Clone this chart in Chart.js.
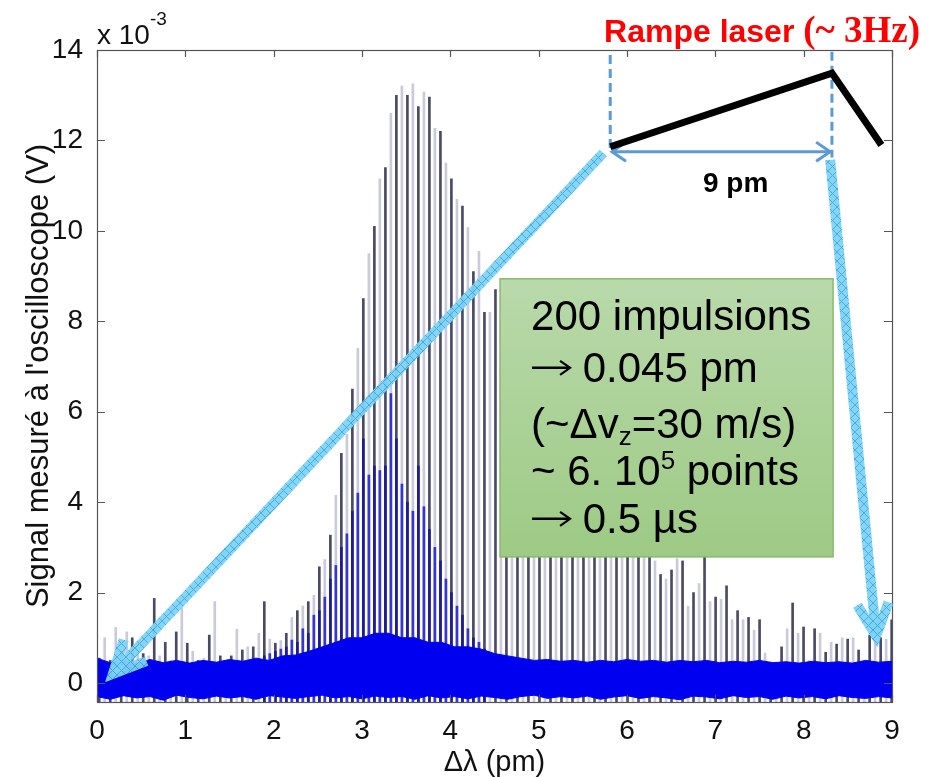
<!DOCTYPE html>
<html>
<head>
<meta charset="utf-8">
<script src="https://cdn.jsdelivr.net/npm/chart.js@4.4.1/dist/chart.umd.min.js"></script>
<style>
  html, body { margin: 0; padding: 0; background: #fff; }
  #wrap { width: 944px; height: 777px; position: relative; }
</style>
</head>
<body>
<div id="wrap"><canvas id="chart"></canvas></div>
<script>
// --- data (x in pm, y in 10^-3 V) ---
const spikeX = [
  0.025, 0.087, 0.150, 0.212, 0.274, 0.337, 0.399, 0.461, 0.523, 0.586,
  0.648, 0.710, 0.773, 0.835, 0.897, 0.960, 1.022, 1.084, 1.146, 1.209,
  1.271, 1.333, 1.396, 1.458, 1.520, 1.583, 1.645, 1.707, 1.769, 1.832,
  1.894, 1.956, 2.019, 2.081, 2.143, 2.206, 2.268, 2.330, 2.392, 2.455,
  2.517, 2.579, 2.642, 2.704, 2.766, 2.829, 2.891, 2.953, 3.015, 3.078,
  3.140, 3.202, 3.265, 3.327, 3.389, 3.452, 3.514, 3.576, 3.638, 3.701,
  3.763, 3.825, 3.888, 3.950, 4.012, 4.075, 4.137, 4.199, 4.261, 4.324,
  4.386, 4.448, 4.511, 4.573, 4.635, 4.698, 4.760, 4.822, 4.884, 4.947,
  5.009, 5.071, 5.134, 5.196, 5.258, 5.321, 5.383, 5.445, 5.507, 5.570,
  5.632, 5.694, 5.757, 5.819, 5.881, 5.944, 6.006, 6.068, 6.130, 6.193,
  6.255, 6.317, 6.380, 6.442, 6.504, 6.567, 6.629, 6.691, 6.753, 6.816,
  6.878, 6.940, 7.003, 7.065, 7.127, 7.190, 7.252, 7.314, 7.376, 7.439,
  7.501, 7.563, 7.626, 7.688, 7.750, 7.813, 7.875, 7.937, 7.999, 8.062,
  8.124, 8.186, 8.249, 8.311, 8.373, 8.436, 8.498, 8.560, 8.622, 8.685,
  8.747, 8.809, 8.872, 8.934, 8.996
];
const spikeY = [
  0.55, 1.0, 0.5, 1.23, 0.7, 1.13, 1.0, 0.85, 0.65, 0.6,
  1.87, 0.6, 0.9, 0.5, 1.13, 1.66, 0.88, 0.7, 0.5, 0.55,
  1.06, 1.8, 0.6, 0.5, 0.6, 1.19, 0.73, 0.8, 0.8, 1.1,
  1.8, 0.97, 0.88, 0.94, 1.1, 1.45, 1.6, 1.7, 1.8, 1.94,
  2.57, 2.73, 3.27, 4.15, 5.08, 5.5, 6.5, 7.4, 8.5, 9.5,
  10.1, 11.15, 11.4, 12.6, 13.0, 13.2, 13.0, 13.25, 12.75, 13.07,
  12.96, 12.27, 12.2, 11.5, 11.15, 10.7, 10.55, 10.07, 9.1, 9.55,
  8.2, 8.2, 8.7, 8.0, 7.6, 7.9, 7.2, 6.9, 7.0, 6.5,
  6.2, 6.4, 5.9, 5.6, 5.8, 5.3, 5.0, 5.2, 4.8, 4.5,
  4.6, 4.2, 4.0, 4.1, 3.8, 3.6, 3.7, 3.4, 3.2, 3.3,
  3.0, 2.7, 2.4, 2.3, 2.5, 2.75, 2.7, 1.7, 2.0, 2.2,
  2.9, 1.8, 1.9, 1.85, 2.15, 1.4, 1.6, 1.4, 1.45, 1.17,
  1.4, 0.66, 0.46, 0.4, 0.8, 1.2, 1.77, 1.1, 1.24, 0.5,
  1.2, 1.1, 0.68, 0.9, 0.86, 1.0, 0.97, 1.0, 0.73, 0.5,
  1.06, 1.0, 1.0, 0.97, 1.4
];
// blue part of the pulses in the 2-4.5 pm bump
const blueSpikeX = spikeX.slice(30, 71);
const blueSpikeY = [
  0.6, 0.65, 0.7, 0.75, 0.8, 0.95, 0.9, 1.2, 1.1, 1.5,
  1.6, 1.9, 2.3, 2.6, 3.0, 3.3, 3.8, 4.2, 5.4, 4.6,
  4.8, 4.7, 4.8, 6.4, 5.4, 4.4, 4.0, 3.8, 4.8, 3.9,
  3.4, 3.0, 2.7, 2.3, 2.0, 1.7, 1.5, 1.2, 1.0, 0.9, 0.75
];
// noise band (upper / lower edge)
const bandX = [
  0, 0.15, 0.3, 0.45, 0.6, 0.75, 0.9, 1.05, 1.2, 1.35,
  1.5, 1.65, 1.8, 1.95, 2.1, 2.25, 2.4, 2.55, 2.7, 2.85,
  3.0, 3.15, 3.3, 3.45, 3.6, 3.75, 3.9, 4.05, 4.2, 4.35,
  4.5, 4.65, 4.8, 4.95, 5.1, 5.25, 5.4, 5.55, 5.7, 5.85,
  6.0, 6.15, 6.3, 6.45, 6.6, 6.75, 6.9, 7.05, 7.2, 7.35,
  7.5, 7.65, 7.8, 7.95, 8.1, 8.25, 8.4, 8.55, 8.7, 8.85, 9.0
];
const bandTop = [
  0.55, 0.45, 0.5, 0.42, 0.52, 0.45, 0.5, 0.44, 0.5, 0.46,
  0.52, 0.48, 0.55, 0.5, 0.6, 0.62, 0.7, 0.8, 0.9, 1.0,
  1.0, 1.1, 1.1, 1.0, 1.0, 0.9, 0.9, 0.8, 0.8, 0.75,
  0.65, 0.6, 0.55, 0.5, 0.52, 0.48, 0.5, 0.46, 0.5, 0.47,
  0.52, 0.48, 0.5, 0.46, 0.5, 0.47, 0.5, 0.45, 0.48, 0.46,
  0.5, 0.45, 0.47, 0.44, 0.48, 0.45, 0.47, 0.44, 0.5, 0.46, 0.48
];
const bandBottom = [
  -0.3, -0.36, -0.28, -0.33, -0.3, -0.38, -0.27, -0.32, -0.35, -0.29,
  -0.33, -0.3, -0.36, -0.28, -0.31, -0.34, -0.3, -0.27, -0.33, -0.3,
  -0.35, -0.29, -0.32, -0.3, -0.36, -0.28, -0.33, -0.3, -0.35, -0.29,
  -0.32, -0.36, -0.3, -0.27, -0.34, -0.3, -0.33, -0.29, -0.36, -0.31,
  -0.28, -0.34, -0.3, -0.33, -0.37, -0.29, -0.31, -0.35, -0.28, -0.32,
  -0.3, -0.36, -0.29, -0.33, -0.3, -0.35, -0.28, -0.32, -0.34, -0.3, -0.33
];
const xTicks = [0, 1, 2, 3, 4, 5, 6, 7, 8, 9];
const yTicks = [0, 2, 4, 6, 8, 10, 12, 14];
const yMin = -0.42;

const DARK = '#4a4a66';
const LIGHT = '#cacadb';
const BLUE = '#0000f0';
const SANS = '"Liberation Sans", Arial, sans-serif';

// --- hatch pattern for the big cyan arrows ---
function makeHatch(ctx) {
    const c = document.createElement('canvas');
    c.width = 9; c.height = 9;
    const g = c.getContext('2d');
    g.fillStyle = '#80d2f6';
    g.fillRect(0, 0, 9, 9);
    g.strokeStyle = '#38ace5';
    g.lineWidth = 1;
    g.beginPath();
    g.moveTo(0, 0); g.lineTo(9, 9);
    g.moveTo(9, 0); g.lineTo(0, 9);
    g.stroke();
    return ctx.createPattern(c, 'repeat');
}

function fatArrow(ctx, x0, y0, x1, y1, pat) {
    ctx.save();
    ctx.globalAlpha = 0.95;
    ctx.strokeStyle = pat;
    ctx.lineWidth = 10;
    ctx.lineCap = 'butt';
    ctx.lineJoin = 'miter';
    ctx.beginPath();
    ctx.moveTo(x0, y0);
    ctx.lineTo(x1, y1);
    ctx.stroke();
    const a = Math.atan2(y0 - y1, x0 - x1);
    const L = 36, s = 0.45;
    ctx.beginPath();
    ctx.moveTo(x1 + L * Math.cos(a + s), y1 + L * Math.sin(a + s));
    ctx.lineTo(x1, y1);
    ctx.lineTo(x1 + L * Math.cos(a - s), y1 + L * Math.sin(a - s));
    ctx.stroke();
    ctx.restore();
}

function chevron(ctx, x, y, ang) {
    const L = 17, s = 0.6;
    ctx.beginPath();
    ctx.moveTo(x + L * Math.cos(ang + s), y + L * Math.sin(ang + s));
    ctx.lineTo(x, y);
    ctx.lineTo(x + L * Math.cos(ang - s), y + L * Math.sin(ang - s));
    ctx.stroke();
}

// thin "→" like the one of the slide font, drawn as a path; returns its width
function textArrow(ctx, x, baseline) {
    const y = baseline - 14, w = 40;
    ctx.save();
    ctx.strokeStyle = '#000';
    ctx.lineWidth = 2.6;
    ctx.beginPath();
    ctx.moveTo(x + 1, y); ctx.lineTo(x + w - 2, y);
    ctx.stroke();
    ctx.lineWidth = 2.2;
    ctx.beginPath();
    ctx.moveTo(x + w - 11, y - 7);
    ctx.lineTo(x + w - 1, y);
    ctx.lineTo(x + w - 11, y + 7);
    ctx.stroke();
    ctx.restore();
    return w;
}

// text line made of pieces: [text, font, dy]
function richLine(ctx, x, y, parts) {
    parts.forEach(([t, f, dy]) => {
        if (t === '\u2192') {
            x += textArrow(ctx, x, y);
            return;
        }
        ctx.font = f;
        ctx.fillText(t, x, y + (dy || 0));
        x += ctx.measureText(t).width;
    });
}

// --- axes box with inward ticks (matlab style) + annotations ---
const boxPlugin = {
    id: 'boxPlugin',
    afterDatasetsDraw(chart) {
        const { ctx, chartArea: { left, right, top, bottom } } = chart;
        const sx = chart.scales.x, sy = chart.scales.y;
        ctx.save();
        ctx.strokeStyle = '#555';
        ctx.lineWidth = 1.2;
        ctx.strokeRect(left + 0.5, top + 0.5, right - left, bottom - top);
        ctx.beginPath();
        yTicks.forEach(v => {
            const p = Math.round(sy.getPixelForValue(v)) + 0.5;
            ctx.moveTo(left, p); ctx.lineTo(left + 8, p);
            ctx.moveTo(right, p); ctx.lineTo(right - 8, p);
        });
        xTicks.forEach(v => {
            const p = Math.round(sx.getPixelForValue(v)) + 0.5;
            ctx.moveTo(p, bottom); ctx.lineTo(p, bottom - 7);
            ctx.moveTo(p, top); ctx.lineTo(p, top + 7);
        });
        ctx.stroke();
        ctx.restore();
    },
    afterDraw(chart) {
        const { ctx } = chart;
        const X = v => chart.scales.x.getPixelForValue(v);
        const Y = v => chart.scales.y.getPixelForValue(v);
        ctx.save();

        // x 10^-3 exponent
        ctx.fillStyle = '#111';
        ctx.textBaseline = 'alphabetic';
        richLine(ctx, X(0), Y(14.13), [
            ['x 10', '28px ' + SANS, 0],
            ['-3', '19px ' + SANS, -19]
        ]);

        // dashed markers of the ramp
        ctx.strokeStyle = '#5b9bd5';
        ctx.lineWidth = 3;
        ctx.setLineDash([9, 5]);
        ctx.beginPath();
        ctx.moveTo(X(5.81), Y(13.89)); ctx.lineTo(X(5.81), Y(11.8));
        ctx.moveTo(X(8.32), Y(13.96)); ctx.lineTo(X(8.32), Y(11.62));
        ctx.stroke();
        ctx.setLineDash([]);

        // double arrow "9 pm"
        ctx.beginPath();
        ctx.moveTo(X(5.83), Y(11.75)); ctx.lineTo(X(8.30), Y(11.75));
        ctx.stroke();
        chevron(ctx, X(5.83), Y(11.75), 0);
        chevron(ctx, X(8.30), Y(11.75), Math.PI);

        // ramp shape
        ctx.strokeStyle = '#000';
        ctx.lineWidth = 7;
        ctx.lineJoin = 'miter';
        ctx.beginPath();
        ctx.moveTo(X(5.81), Y(11.86));
        ctx.lineTo(X(8.32), Y(13.49));
        ctx.lineTo(X(8.88), Y(11.9));
        ctx.stroke();

        ctx.fillStyle = '#000';
        ctx.textAlign = 'center';
        ctx.font = 'bold 28px ' + SANS;
        ctx.fillText('9 pm', X(7.23), Y(10.86));
        ctx.textAlign = 'left';

        // title of the ramp
        ctx.fillStyle = '#ff0000';
        richLine(ctx, X(5.74), Y(14.18), [
            ['Rampe laser ', 'bold 32px ' + SANS],
            ['(~ 3Hz)', 'bold 37px "Liberation Serif", "Times New Roman", serif']
        ]);

        // cyan arrows
        const pat = makeHatch(ctx);
        fatArrow(ctx, X(5.73), Y(11.72), X(0.18), Y(0.2), pat);
        fatArrow(ctx, X(8.30), Y(11.57), X(8.82), Y(1.04), pat);

        // green info box
        const bx0 = X(4.563), bx1 = X(8.333), by0 = Y(8.94), by1 = Y(2.79);
        const grad = ctx.createLinearGradient(0, by0, 0, by1);
        grad.addColorStop(0, '#b9d9aa');
        grad.addColorStop(1, '#9dca85');
        ctx.fillStyle = grad;
        ctx.fillRect(bx0, by0, bx1 - bx0, by1 - by0);
        ctx.strokeStyle = '#8bb96e';
        ctx.lineWidth = 1.5;
        ctx.strokeRect(bx0, by0, bx1 - bx0, by1 - by0);

        ctx.fillStyle = '#000';
        const big = '42px ' + SANS;
        const small = '26px ' + SANS;
        const tx = bx0 + 31;
        richLine(ctx, tx, by0 + 51, [['200 impulsions', big]]);
        richLine(ctx, tx, by0 + 103, [['\u2192'], [' 0.045 pm', big]]);
        richLine(ctx, tx, by0 + 159, [['(~\u0394v', big], ['z', small, 7], ['=30 m/s)', big]]);
        richLine(ctx, tx, by0 + 206, [['~ 6. 10', big], ['5', small, -16], [' points', big]]);
        richLine(ctx, tx, by0 + 254, [['\u2192'], [' 0.5 \u00b5s', big]]);

        ctx.restore();
    }
};

const ctx = document.getElementById('chart').getContext('2d');
new Chart(ctx, {
    type: 'bar',
    data: {
        datasets: [
            {
                label: 'impulsions',
                data: spikeX.map((x, i) => ({ x, y: spikeY[i] })),
                base: yMin,
                barThickness: 2,
                backgroundColor: c => (c.dataIndex % 2 ? LIGHT : DARK),
                borderWidth: 0,
                grouped: false,
                order: 3
            },
            {
                label: 'impulsions (bleu)',
                data: blueSpikeX.map((x, i) => ({ x, y: blueSpikeY[i] })),
                base: yMin,
                barThickness: 2,
                backgroundColor: c => (c.dataIndex % 2 ? '#3434d8' : '#1c1c98'),
                borderWidth: 0,
                grouped: false,
                order: 2
            },
            {
                type: 'line',
                label: 'bruit bas',
                data: bandX.map((x, i) => ({ x, y: bandBottom[i] })),
                borderColor: BLUE,
                borderWidth: 1,
                pointRadius: 0,
                fill: false,
                order: 1
            },
            {
                type: 'line',
                label: 'bruit haut',
                data: bandX.map((x, i) => ({ x, y: bandTop[i] })),
                borderColor: BLUE,
                borderWidth: 1,
                pointRadius: 0,
                backgroundColor: BLUE,
                fill: '-1',
                order: 1
            }
        ]
    },
    options: {
        responsive: true,
        maintainAspectRatio: false,
        animation: false,
        devicePixelRatio: 1,
        layout: { padding: { left: 0, right: 52, top: 50, bottom: 0 } },
        plugins: { legend: { display: false }, tooltip: { enabled: false } },
        scales: {
            x: {
                type: 'linear',
                min: 0,
                max: 9,
                offset: false,
                grid: { display: false },
                border: { display: false },
                afterBuildTicks: s => { s.ticks = xTicks.map(v => ({ value: v })); },
                afterFit: s => { s.height = 75; },
                ticks: {
                    padding: 4,
                    color: '#111',
                    maxRotation: 0,
                    font: { family: SANS, size: 28 }
                },
                title: {
                    display: true,
                    text: '\u0394\u03bb (pm)',
                    color: '#111',
                    padding: { top: 0, bottom: 0 },
                    font: { family: SANS, size: 29, lineHeight: 1 }
                }
            },
            y: {
                min: yMin,
                max: 14,
                grid: { display: false },
                border: { display: false },
                afterBuildTicks: s => { s.ticks = yTicks.map(v => ({ value: v })); },
                afterFit: s => { s.width = 97; },
                ticks: {
                    padding: 6,
                    color: '#111',
                    font: { family: SANS, size: 28 }
                },
                title: {
                    display: true,
                    text: "Signal mesuré à l'oscilloscope (V)",
                    color: '#111',
                    padding: { top: 24, bottom: 0 },
                    font: { family: SANS, size: 31, lineHeight: 1 }
                }
            }
        }
    },
    plugins: [boxPlugin]
});
</script>
</body>
</html>
